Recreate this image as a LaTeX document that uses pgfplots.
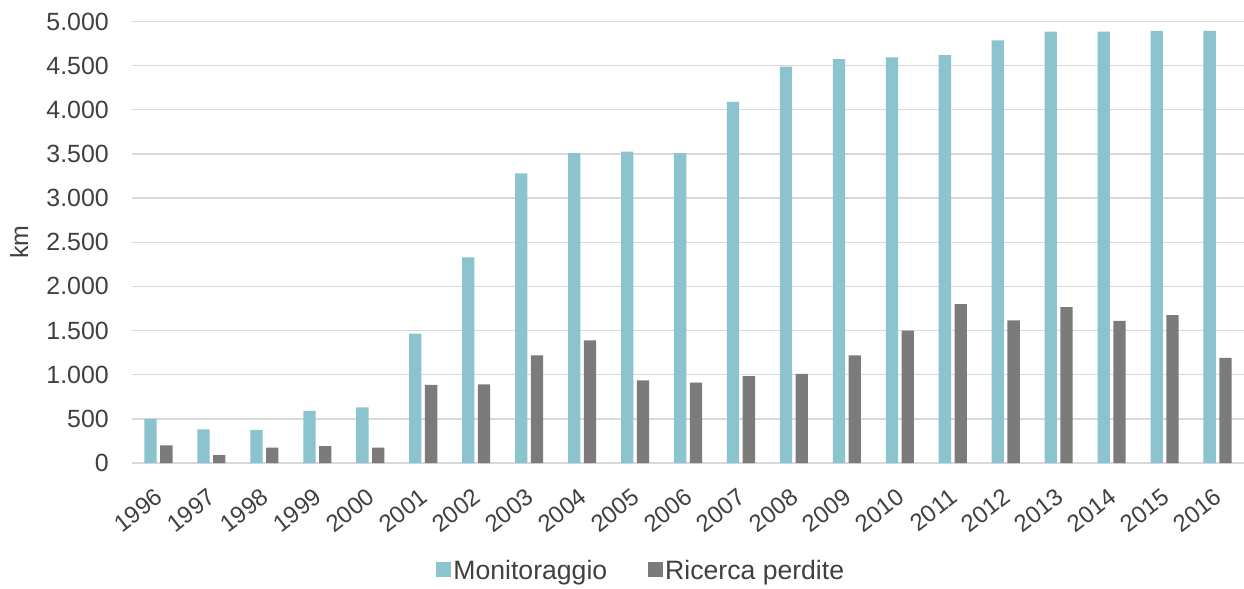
\documentclass[border=0pt]{standalone}
\usepackage{pgfplots}
\pgfplotsset{compat=1.18}
\usepackage{fontspec}
\setmainfont{Liberation Sans}
\definecolor{mon}{RGB}{139,195,206}
\definecolor{ric}{RGB}{124,122,122}
\definecolor{txt}{RGB}{64,64,64}
\definecolor{gridc}{RGB}{217,217,217}
\begin{document}
\begin{tikzpicture}
\useasboundingbox (-132bp,-126bp) rectangle (1112bp,463bp);
\begin{axis}[
  at={(0,0)}, anchor=south west,
  scale only axis,
  width=1112bp, height=441.5bp,
  xmin=-0.5, xmax=20.5,
  ymin=0, ymax=5000,
  ybar=3.5bp, bar width=12.3bp,
  xtick={0,...,20},
  xticklabels={1996,1997,1998,1999,2000,2001,2002,2003,2004,2005,2006,2007,2008,2009,2010,2011,2012,2013,2014,2015,2016},
  ytick={0,500,...,5000},
  ymajorgrids,
  grid style={draw=gridc, line width=1.3bp},
  axis line style={draw=none},
  major tick length=0pt,
  tick style={draw=none},
  /pgf/number format/.cd, 1000 sep={.}, assume math mode=true,
  /pgfplots/.cd,
  xticklabel style={yshift=-31bp, xshift=1bp, rotate=38, anchor=east, inner sep=0pt, font=\fontsize{24}{29}\selectfont, text=txt},
  yticklabel style={anchor=east, inner sep=0pt, xshift=-23bp, font=\fontsize{25}{30}\selectfont, text=txt},
  ylabel={km},
  ylabel style={at={(axis description cs:-0.1016,0.5)}, anchor=center, rotate=0, font=\fontsize{25}{30}\selectfont, text=txt},
  legend style={at={(axis description cs:0.458,-0.2446)}, anchor=center, draw=none, fill=none,
    legend columns=2, font=\fontsize{26.7}{31}\selectfont, text=txt,
    /tikz/every even column/.append style={column sep=38bp},
    nodes={inner sep=2.5bp}},
  legend image code/.code={\fill[#1,draw=none] (0bp,-6.5bp) rectangle (15bp,8.5bp);},
]
\addplot[fill=mon, draw=none] coordinates {
(0,500) (1,380) (2,375) (3,590) (4,630) (5,1465) (6,2330) (7,3280) (8,3510) (9,3525) (10,3510)
(11,4090) (12,4490) (13,4575) (14,4595) (15,4620) (16,4785) (17,4885) (18,4885) (19,4895) (20,4895)};
\addplot[fill=ric, draw=none] coordinates {
(0,200) (1,90) (2,175) (3,190) (4,175) (5,885) (6,890) (7,1220) (8,1390) (9,935) (10,910)
(11,985) (12,1010) (13,1220) (14,1500) (15,1800) (16,1615) (17,1765) (18,1610) (19,1675) (20,1190)};
\legend{Monitoraggio, Ricerca perdite}
\end{axis}
\end{tikzpicture}
\end{document}
